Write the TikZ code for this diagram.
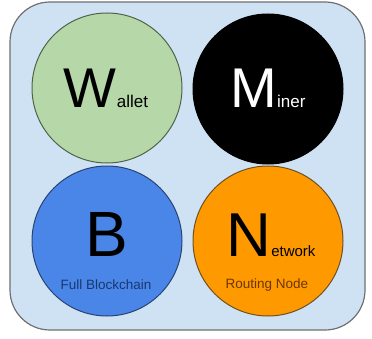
\documentclass[tikz,border=0pt]{standalone}
\usepackage{fontspec}
\setmainfont{Liberation Sans}
\definecolor{boxfill}{HTML}{CFE2F3}
\definecolor{boxline}{HTML}{6F6F6F}
\definecolor{walletfill}{HTML}{B6D7A8}
\definecolor{walletline}{HTML}{4F6349}
\definecolor{chainfill}{HTML}{4A86E8}
\definecolor{chainline}{HTML}{2A4272}
\definecolor{chaintext}{HTML}{17386E}
\definecolor{netfill}{HTML}{FF9900}
\definecolor{netline}{HTML}{6E5026}
\definecolor{nettext}{HTML}{6A3603}
\tikzset{
  disc/.style={circle, minimum size=150pt, inner sep=0pt, line width=1pt},
  big/.style={anchor=base, inner sep=0pt},
}
\newcommand{\fsz}[2]{{\fontsize{#1}{#1}\selectfont #2}}
\begin{document}
\begin{tikzpicture}[x=1pt,y=1pt]
\useasboundingbox (0,0) rectangle (372,338);
\draw[fill=boxfill, draw=boxline, line width=1.2pt, rounded corners=40pt] (10,8) rectangle (365,336);
\node[disc, fill=walletfill, draw=walletline] (wallet) at (107,250) {};
\node[disc, fill=black, draw=black] (miner) at (268,249) {};
\node[disc, fill=chainfill, draw=chainline] (chain) at (107,97) {};
\node[disc, fill=netfill, draw=netline] (net) at (268,97) {};
\node[big, text=black] (wt) at (106,230) {\fsz{56}{W}\fsz{17}{allet}};
\node[big, text=white] (mt) at (268,230) {\fsz{56}{M}\fsz{17}{iner}};
\node[big, text=black] (bt) at (107,82) {\fsz{64}{B}};
\node[big, text=black] (nt) at (271,82) {\fsz{62}{N}\fsz{15}{etwork}};
\node[big, text=chaintext] (ft) at (106,49) {\fsz{13.5}{Full Blockchain}};
\node[big, text=nettext] (rt) at (267,50) {\fsz{13.5}{Routing Node}};
\end{tikzpicture}
\end{document}
